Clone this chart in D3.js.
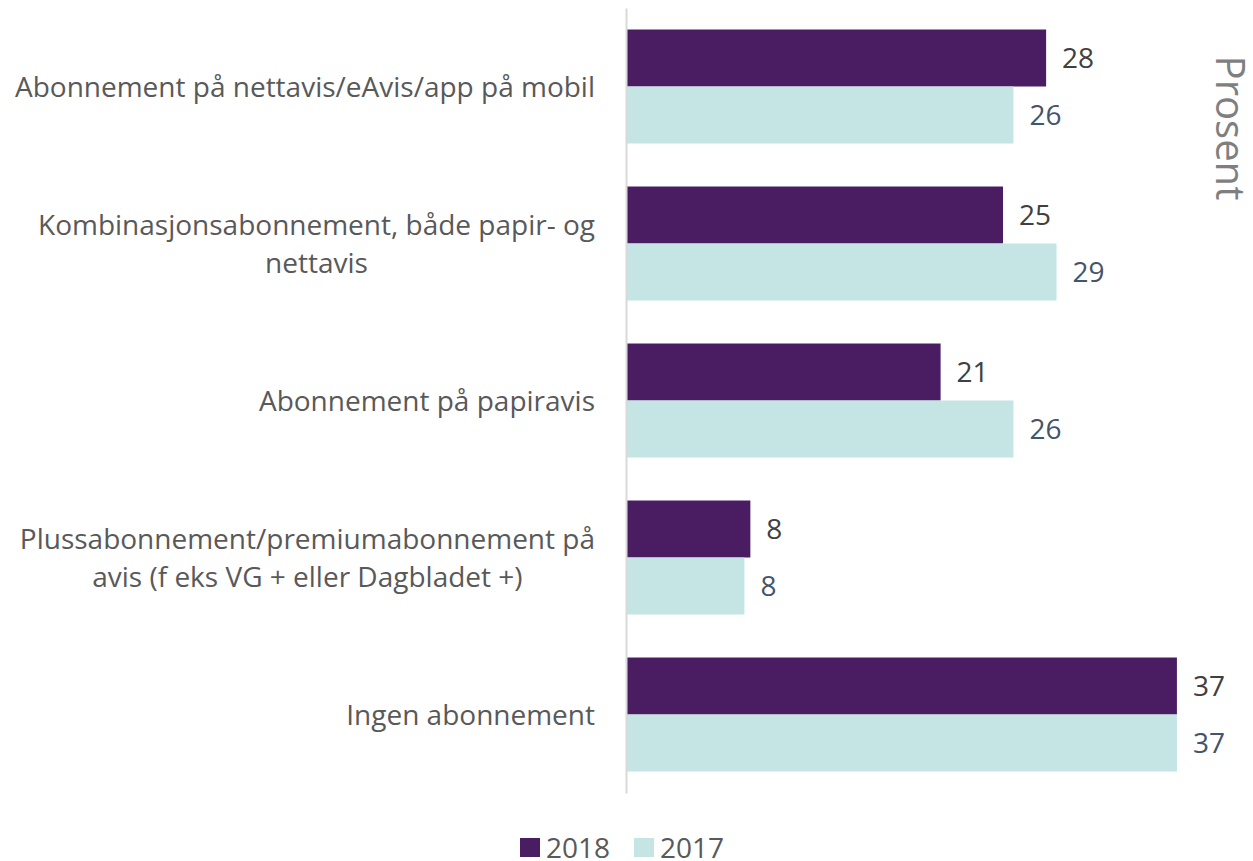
<!DOCTYPE html>
<html>
<head>
<meta charset="utf-8">
<script src="https://cdn.jsdelivr.net/npm/d3@7"></script>
<style>
  body { margin: 0; background: #fff; }
  text { font-family: "Open Sans", Lato, sans-serif; }
</style>
</head>
<body>
<script>
// data
const categories = [
    ["Abonnement på nettavis/eAvis/app på mobil"],
    ["Kombinasjonsabonnement, både papir- og", "nettavis"],
    ["Abonnement på papiravis"],
    ["Plussabonnement/premiumabonnement på", "avis (f eks VG + eller Dagbladet +)"],
    ["Ingen abonnement"]
];
const seriesNames = ["2018", "2017"];
const values2018 = [28.2, 25.3, 21.1, 8.3, 37.0];
const values2017 = [26.0, 28.9, 26.0, 7.9, 37.0];
const labels2018 = [28, 25, 21, 8, 37];
const labels2017 = [26, 29, 26, 8, 37];
const axisTitle = "Prosent";

const colors = {"2018": "#4a1d63", "2017": "#c5e4e4"};
const labelColors = {"2018": "#404040", "2017": "#44546a"};

const W = 1253, H = 861;
const svg = d3.select("body").append("svg")
    .attr("width", W)
    .attr("height", H);

const keys = categories.map((c, i) => i);

// scales
const y = d3.scaleBand()
    .domain(keys)
    .range([8, 793])
    .paddingInner(0.274)
    .paddingOuter(0.137);

const ySub = d3.scaleBand()
    .domain(seriesNames)
    .range([0, y.bandwidth()]);

const x = d3.scaleLinear()
    .domain([0, 40])
    .range([627, 1221.5]);

const rows = keys.map(i => ({
    i: i,
    items: [
        {name: "2018", v: values2018[i], label: labels2018[i]},
        {name: "2017", v: values2017[i], label: labels2017[i]}
    ]
}));

// bars
const groups = svg.selectAll("g.grp")
    .data(rows)
    .enter().append("g")
    .attr("class", "grp")
    .attr("transform", d => `translate(0,${y(d.i)})`);

groups.selectAll("rect")
    .data(d => d.items)
    .enter().append("rect")
    .attr("x", x(0))
    .attr("y", d => ySub(d.name))
    .attr("width", d => x(d.v) - x(0))
    .attr("height", ySub.bandwidth())
    .attr("fill", d => colors[d.name]);

// value labels
groups.selectAll("text.val")
    .data(d => d.items)
    .enter().append("text")
    .attr("class", "val")
    .attr("x", d => x(d.v) + 16)
    .attr("y", d => ySub(d.name) + ySub.bandwidth() / 2)
    .attr("dy", "0.36em")
    .style("font-size", "28px")
    .attr("fill", d => labelColors[d.name])
    .text(d => d.label);

// vertical axis line
const yAxis = svg.append("g")
    .attr("transform", `translate(${x(0) - 1},0)`)
    .call(d3.axisLeft(y).tickSize(0).tickSizeOuter(0).tickFormat(""));
yAxis.select(".domain").attr("stroke", "#d9d9d9").attr("stroke-width", 2);

// category labels: block right-aligned, lines centred in the block
const labelRight = 595, lineH = 38;
categories.forEach((lines, i) => {
    const g = svg.append("g");
    const texts = lines.map((ln, j) => g.append("text")
        .attr("y", y(i) + y.bandwidth() / 2 + (j - (lines.length - 1) / 2) * lineH)
        .attr("dy", "0.36em")
        .attr("text-anchor", "middle")
        .style("font-size", "28px")
        .attr("fill", "#595959")
        .text(ln));
    const maxW = d3.max(texts, t => t.node().getComputedTextLength());
    texts.forEach(t => t.attr("x", labelRight - maxW / 2));
});

// axis title on the right
svg.append("text")
    .attr("transform", `translate(1216,128) rotate(90)`)
    .attr("text-anchor", "middle")
    .style("font-size", "40px")
    .attr("fill", "#7f7f7f")
    .text(axisTitle);

// legend
const legend = svg.append("g").attr("transform", "translate(520,838)");
const legendX = [0, 114];
seriesNames.forEach((s, i) => {
    legend.append("rect")
        .attr("x", legendX[i])
        .attr("y", 0)
        .attr("width", 20)
        .attr("height", 19)
        .attr("fill", colors[s]);
    legend.append("text")
        .attr("x", legendX[i] + 26)
        .attr("y", 10)
        .attr("dy", "0.36em")
        .style("font-size", "28px")
        .attr("fill", "#595959")
        .text(s);
});
</script>
</body>
</html>
